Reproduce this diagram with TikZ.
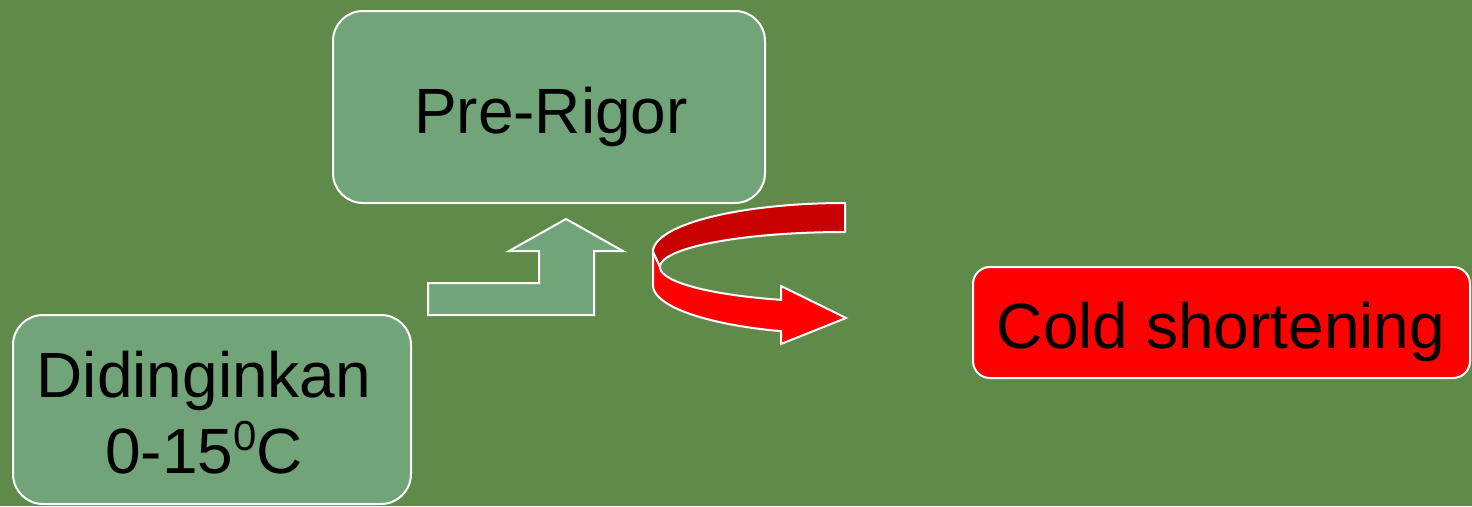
\documentclass[tikz,border=0pt]{standalone}
\usepackage{fontspec}
\setmainfont{Liberation Sans}
\definecolor{bg}{HTML}{608A4A}
\definecolor{boxg}{HTML}{72A47A}
\definecolor{redb}{HTML}{FF0000}
\definecolor{redd}{HTML}{C80000}
\begin{document}
\begin{tikzpicture}[x=1pt,y=-1pt,
  gbox/.style={draw=white,line width=2pt,fill=boxg,rounded corners=30pt,inner sep=0pt},
  rbox/.style={draw=white,line width=2pt,fill=redb,rounded corners=17pt,inner sep=0pt},
  lbl/.style={anchor=base,inner sep=0pt,font=\fontsize{64}{76}\selectfont,text=black},
  shapeline/.style={draw=white,line width=2pt,line join=miter}]
\fill[bg] (0,0) rectangle (1472,506);
\useasboundingbox (0,0) rectangle (1472,506);
% boxes
\node[gbox,minimum width=432pt,minimum height=192pt] (pre) at (549,107) {};
\node[lbl] (pret) at (551,133) {Pre-Rigor};
\node[gbox,minimum width=398pt,minimum height=189pt] (did) at (212,409.5) {};
\node[lbl] (didt1) at (204,397) {Didinginkan};
\node[lbl] (didt2) at (204,473) {0-15\raisebox{23pt}{\fontsize{42}{42}\selectfont 0}C};
\node[rbox,minimum width=497pt,minimum height=111pt] (cold) at (1221.5,322.5) {};
\node[lbl] (coldt) at (1221,348) {Cold shortening};
% bent-up arrow
\draw[shapeline,fill=boxg] (428,315) -- (428,283) -- (539,283) -- (539,251) -- (509,251)
  -- (566,219) -- (623,251) -- (594,251) -- (594,315) -- cycle;
% curved red arrow: back part
\draw[shapeline,fill=redd,line join=round]
  plot[domain=270:180,samples=60] ({845+192*cos(\x)},{252+49*sin(\x)})
  -- (660,267)
  -- plot[domain=180:270,samples=60] ({845+185*cos(\x)},{267+35*sin(\x)})
  -- cycle;
% front part
\draw[shapeline,fill=redb,line join=miter]
  (653,252) -- plot[domain=180:109.47,samples=60] ({845+192*cos(\x)},{285+49*sin(\x)})
  -- (781,344) -- (846,318) -- (781,286) --
  plot[domain=110.24:180,samples=60] ({845+185*cos(\x)},{267+35*sin(\x)})
  -- cycle;
\end{tikzpicture}
\end{document}
